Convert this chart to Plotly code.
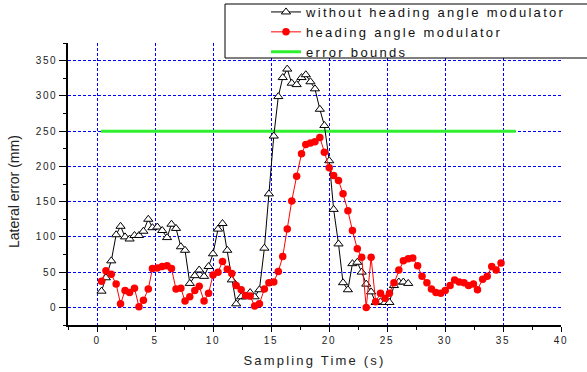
import plotly.graph_objects as go

time_s = [0.39, 0.77, 1.23, 1.65, 2.03, 2.42, 2.81, 3.23, 3.62, 4.0,
          4.42, 4.78, 5.2, 5.62, 6.04, 6.42, 6.81, 7.23, 7.59, 8.0,
          8.43, 8.81, 9.23, 9.62, 10.0, 10.43, 10.82, 11.23, 11.62, 12.0,
          12.43, 12.82, 13.2, 13.59, 14.0, 14.43, 14.82, 15.24, 15.63, 16.01,
          16.4, 16.79, 17.21, 17.63, 18.0, 18.4, 18.79, 19.21, 19.6, 20.02,
          20.4, 20.82, 21.21, 21.63, 22.02, 22.44, 22.82, 23.21, 23.63, 24.02,
          24.44, 24.83, 25.21, 25.6, 26.02, 26.41, 26.83, 27.22, 27.64, 28.02,
          28.44, 28.83, 29.22, 29.64, 30.02, 30.44, 30.83, 31.22, 31.64, 32.03,
          32.45, 32.8, 33.25, 33.64, 34.03, 34.41, 34.83]

without_mod = [23, 42, 66, 103, 115, 100, 97, 102, 102, 108,
               125, 113, 114, 109, 99, 118, 112, 86, 81, 34,
               45, 53, 44, 58, 76, 111, 119, 81, 39, 5,
               15, 15, 21, 15, 25, 84, 161, 243, 299, 326,
               338, 318, 316, 326, 330, 320, 310, 281, 258, 208,
               139, 90, 35, 25, 62, 64, 50, 33, 22, 7,
               8, 7, 7, 31, 36, 36, 34]

with_mod = [37, 52, 47, 33, 5, 24, 21, 27, 1, 10,
            26, 55, 56, 58, 59, 55, 26, 27, 9, 15,
            24, 30, 9, 20, 46, 50, 65, 54, 48, 31,
            25, 17, 16, 2, 5, 26, 35, 36, 51, 72,
            111, 151, 186, 218, 231, 233, 235, 241, 220, 198,
            187, 180, 161, 137, 109, 83, 71, 0, 71, 8,
            20, 13, 20, 35, 53, 66, 69, 70, 59, 44,
            35, 26, 21, 20, 24, 31, 39, 36, 35, 31,
            33, 25, 40, 44, 58, 53, 63]

bound_x = [0.35, 36.1]
bound_y = [250, 250]

W, H = 587, 372
ML, MR, MT, MB = 68, 26, 43, 47
PW, PH = W - ML - MR, H - MT - MB


def px_x(p):
    return (p - ML) / PW


def px_y(p):
    return (H - MB - p) / PH


fig = go.Figure()
fig.add_trace(go.Scatter(
    x=bound_x, y=bound_y, mode="lines", name="error bounds",
    line=dict(color="#2ef02e", width=3), legendrank=3))
fig.add_trace(go.Scatter(
    x=time_s[:len(without_mod)], y=without_mod, mode="lines+markers",
    name="without heading angle modulator",
    line=dict(color="black", width=1),
    marker=dict(symbol="triangle-up", size=8, color="white",
                line=dict(color="black", width=1)),
    legendrank=1))
fig.add_trace(go.Scatter(
    x=time_s[:len(with_mod)], y=with_mod, mode="lines+markers",
    name="heading angle modulator",
    line=dict(color="#ff0000", width=1),
    marker=dict(symbol="circle", size=7.5, color="#ff0000", line=dict(width=0)),
    legendrank=2))

tickfont = dict(family="Liberation Sans, Arial, sans-serif", size=10, color="#222")

fig.update_xaxes(
    range=[-2.5, 40], tick0=0, dtick=5, ticks="outside", ticklen=5,
    tickwidth=1.3, tickcolor="black", showline=True, linecolor="black",
    linewidth=1.5, showgrid=True, gridcolor="#0000ff", gridwidth=1,
    griddash="3px,2px", zeroline=False, tickfont=tickfont,
    minor=dict(dtick=2.5, tick0=0, ticks="outside", ticklen=3,
               tickcolor="black", tickwidth=1.3, showgrid=False),
    title=dict(text="Sampling Time (s)",
               font=dict(family="Liberation Sans, Arial, sans-serif", size=13,
                         color="#222"),
               standoff=11))
fig.update_yaxes(
    range=[-25, 375], tick0=0, dtick=50, ticks="outside", ticklen=7,
    tickwidth=1.3, tickcolor="black", showline=True, linecolor="black",
    linewidth=1.5, showgrid=True, gridcolor="#0000ff", gridwidth=1,
    griddash="3px,2px", zeroline=False, tickfont=tickfont,
    minor=dict(dtick=25, tick0=0, ticks="outside", ticklen=3,
               tickcolor="black", tickwidth=1.3, showgrid=False))

fig.add_shape(type="rect", xref="paper", yref="paper",
              x0=px_x(225), x1=px_x(592), y0=px_y(58), y1=px_y(4),
              line=dict(color="black", width=1), fillcolor="white",
              layer="above")

fig.add_annotation(text="Lateral error (mm)", xref="paper", yref="paper",
                   x=px_x(14), y=px_y(192), showarrow=False, textangle=-90,
                   font=dict(family="Liberation Sans, Arial, sans-serif",
                             size=14, color="#222"),
                   xanchor="center", yanchor="middle")

fig.update_layout(
    width=W, height=H,
    margin=dict(l=ML, r=MR, t=MT, b=MB, autoexpand=False),
    paper_bgcolor="white", plot_bgcolor="white",
    showlegend=True,
    legend=dict(x=px_x(266), y=px_y(-3), xanchor="left", yanchor="top",
                bgcolor="rgba(0,0,0,0)", borderwidth=0,
                font=dict(family="Liberation Sans, Arial, sans-serif",
                          size=13, color="#111"),
                tracegroupgap=0, itemwidth=30),
)

css = ("<style>body{margin:0 !important}"
       ".legendtext{letter-spacing:2.3px}"
       ".legend .scrollbox, .legend g{clip-path:none !important}"
       ".xtitle{letter-spacing:2.2px}"
       ".xtick text,.ytick text{letter-spacing:1.6px}</style>")
post = "document.head.insertAdjacentHTML('beforeend', %r);" % css

fig.write_html("out.html", post_script=post,
               config={"displayModeBar": False})
